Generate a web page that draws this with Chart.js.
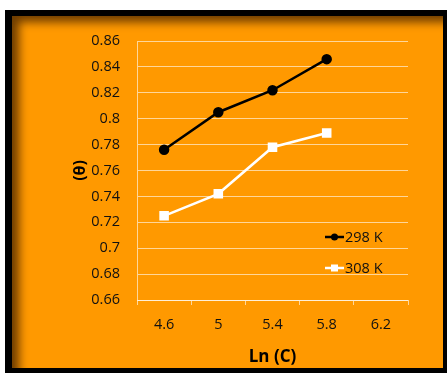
<!DOCTYPE html>
<html>
<head>
<meta charset="utf-8">
<script src="https://cdn.jsdelivr.net/npm/chart.js@4/dist/chart.umd.min.js"></script>
<style>
  html, body { margin: 0; padding: 0; background: #fff; }
  #frame {
    position: absolute; left: 5px; top: 10px; width: 431px; height: 352px;
    background: #ff9900;
    border-style: solid; border-color: #000;
    border-width: 6px 4px 5px 7px;
    box-shadow: inset 9px 8px 10px -2px rgba(60,30,0,0.75);
  }
  #wrap { position: absolute; left: 0; top: 0; width: 447px; height: 373px; }
</style>
</head>
<body>
<div id="frame"></div>
<div id="wrap"><canvas id="chart" width="447" height="373"></canvas></div>
<script>
// données
const categories = ["4.6", "5", "5.4", "5.8", "6.2"];
const theta298 = [0.776, 0.805, 0.822, 0.846, null];
const theta308 = [0.725, 0.742, 0.778, 0.789, null];
const seriesNames = ["298 K", "308 K"];

const FONT = "'Open Sans', sans-serif";
const gridColor = "rgba(255,255,255,0.6)";

// légende dessinée dans la zone de tracé
const insideLegend = {
  id: "insideLegend",
  afterDraw(chart) {
    const ctx = chart.ctx;
    const x0 = chart.chartArea.right - 83;
    const ys = [237, 268];
    chart.data.datasets.forEach((ds, i) => {
      const y = ys[i];
      ctx.save();
      ctx.strokeStyle = ds.borderColor;
      ctx.lineWidth = 2.5;
      ctx.beginPath();
      ctx.moveTo(x0, y);
      ctx.lineTo(x0 + 19, y);
      ctx.stroke();
      ctx.fillStyle = ds.pointBackgroundColor;
      if (ds.pointStyle === "circle") {
        ctx.beginPath();
        ctx.arc(x0 + 9.5, y, 3.5, 0, Math.PI * 2);
        ctx.fill();
      } else {
        ctx.fillRect(x0 + 6, y - 3.5, 7, 7);
      }
      ctx.fillStyle = "#111";
      ctx.font = "14.5px " + FONT;
      ctx.textBaseline = "middle";
      ctx.fillText(ds.label, x0 + 20, y + 1);
      ctx.restore();
    });
  }
};

new Chart(document.getElementById("chart"), {
  type: "line",
  data: {
    labels: categories,
    datasets: [
      {
        label: seriesNames[0],
        data: theta298,
        borderColor: "#000",
        backgroundColor: "#000",
        pointBackgroundColor: "#000",
        pointBorderColor: "#000",
        pointStyle: "circle",
        pointRadius: 4,
        borderWidth: 2.5
      },
      {
        label: seriesNames[1],
        data: theta308,
        borderColor: "#fff",
        backgroundColor: "#fff",
        pointBackgroundColor: "#fff",
        pointBorderColor: "#fff",
        pointStyle: "rect",
        pointRadius: 5,
        borderWidth: 2.5
      }
    ]
  },
  options: {
    responsive: false,
    animation: false,
    layout: { padding: { top: 41, right: 39, left: 0, bottom: 0 } },
    plugins: { legend: { display: false }, tooltip: { enabled: false } },
    scales: {
      x: {
        type: "category",
        offset: true,
        grid: {
          offset: true,
          drawOnChartArea: false,
          drawTicks: true,
          tickLength: 5,
          color: gridColor
        },
        border: { color: gridColor, width: 1 },
        ticks: { color: "#111", font: { family: FONT, size: 14.5 }, padding: 11, maxRotation: 0 },
        title: {
          display: true,
          text: "Ln (C)",
          color: "#000",
          font: { family: FONT, size: 17, weight: "bold" },
          padding: { top: 0, bottom: 6 }
        },
        afterFit(scale) { scale.height = 73; }
      },
      y: {
        min: 0.66,
        max: 0.86,
        ticks: {
          stepSize: 0.02,
          color: "#111",
          font: { family: FONT, size: 14.5 },
          padding: 17,
          callback: v => String(Math.round(v * 100) / 100)
        },
        grid: { color: gridColor, drawTicks: false, lineWidth: 1 },
        border: { color: gridColor, width: 1 },
        title: {
          display: true,
          text: "(θ)",
          color: "#000",
          font: { family: FONT, size: 16, weight: "bold" },
          padding: { top: 71, bottom: 0 }
        },
        afterFit(scale) { scale.width = 137; }
      }
    }
  },
  plugins: [insideLegend]
});
</script>
</body>
</html>
